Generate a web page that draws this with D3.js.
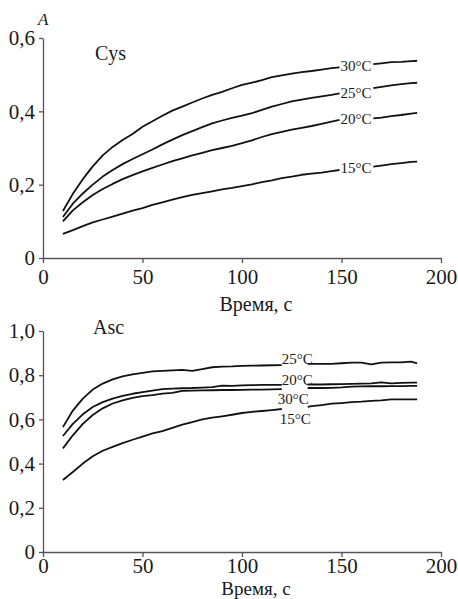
<!DOCTYPE html>
<html>
<head>
<meta charset="utf-8">
<script src="https://cdn.jsdelivr.net/npm/d3@7"></script>
<style>
  body { margin: 0; background: #fff; }
  svg { display: block; }
</style>
</head>
<body>
<svg id="chart" width="458" height="599"></svg>
<script>
// ---- data ----
const seriesNames = ["30°C", "25°C", "20°C", "15°C"];

// Cys panel: time (s); null marks the break where the label sits
const cysTime = [10,15,20,25,30,35,40,45,50,55,60,65,70,75,80,85,90,95,100,105,110,115,120,125,130,135,140,145,149,157,166,170,175,180,185,188];
const cys30 = [0.128,0.175,0.215,0.25,0.28,0.303,0.322,0.338,0.358,0.373,0.388,0.402,0.413,0.424,0.435,0.445,0.453,0.463,0.472,0.478,0.485,0.493,0.498,0.503,0.507,0.51,0.514,0.518,0.52,null,0.529,0.531,0.534,0.535,0.537,0.538];
const cys25 = [0.112,0.148,0.176,0.2,0.222,0.24,0.256,0.27,0.283,0.296,0.31,0.323,0.335,0.346,0.357,0.367,0.375,0.382,0.388,0.395,0.404,0.413,0.42,0.427,0.432,0.437,0.441,0.445,0.449,null,0.463,0.467,0.471,0.474,0.477,0.478];
const cys20 = [0.1,0.13,0.152,0.172,0.188,0.202,0.215,0.226,0.236,0.246,0.255,0.264,0.272,0.28,0.287,0.294,0.3,0.306,0.313,0.321,0.33,0.338,0.344,0.35,0.355,0.36,0.366,0.372,0.377,null,0.381,0.383,0.387,0.39,0.394,0.396];
const cys15 = [0.066,0.076,0.087,0.097,0.105,0.113,0.121,0.129,0.136,0.145,0.152,0.159,0.166,0.172,0.177,0.182,0.187,0.191,0.196,0.201,0.207,0.212,0.218,0.222,0.227,0.23,0.233,0.237,0.24,null,0.249,0.252,0.256,0.259,0.262,0.263];

// Asc panel
const ascTime = [10,15,20,25,30,35,40,45,50,55,60,65,70,75,80,85,90,95,100,105,110,115,120,126,133,135,140,145,150,155,160,165,170,175,180,185,188];
const asc30 = [0.469,0.528,0.58,0.62,0.65,0.672,0.686,0.697,0.705,0.71,0.717,0.72,0.729,0.73,0.731,0.732,0.733,0.733,0.734,0.735,0.735,0.736,0.737,null,0.742,0.742,0.742,0.743,0.745,0.748,0.749,0.75,0.75,0.751,0.751,0.752,0.752];
const asc25 = [0.565,0.64,0.694,0.735,0.762,0.781,0.795,0.804,0.811,0.817,0.82,0.822,0.824,0.82,0.828,0.836,0.839,0.84,0.842,0.843,0.844,0.845,0.846,null,0.851,0.851,0.851,0.851,0.854,0.857,0.857,0.849,0.857,0.858,0.858,0.861,0.854];
const asc20 = [0.525,0.58,0.623,0.656,0.678,0.694,0.706,0.716,0.723,0.73,0.737,0.739,0.741,0.742,0.744,0.746,0.753,0.752,0.754,0.755,0.756,0.756,0.756,null,0.758,0.758,0.758,0.759,0.76,0.761,0.762,0.763,0.768,0.763,0.765,0.766,0.766];
const asc15 = [0.326,0.362,0.4,0.433,0.458,0.476,0.493,0.508,0.522,0.537,0.547,0.562,0.576,0.588,0.6,0.608,0.614,0.621,0.629,0.634,0.638,0.642,0.647,null,0.657,0.66,0.665,0.671,0.674,0.678,0.68,0.684,0.686,0.691,0.691,0.691,0.691];

const xTicks = [0, 50, 100, 150, 200];
const cysTicks = [0, 0.2, 0.4, 0.6];
const cysTickLabels = ["0", "0,2", "0,4", "0,6"];
const ascTicks = [0, 0.2, 0.4, 0.6, 0.8, 1.0];
const ascTickLabels = ["0", "0,2", "0,4", "0,6", "0,8", "1,0"];

// ---- drawing ----
const SERIF = "'Liberation Serif', 'Times New Roman', Times, serif";
const svg = d3.select("#chart");
const x = d3.scaleLinear().domain([0, 200]).range([43, 441]);

function label(sel, size) {
  return sel.style("font-family", SERIF).style("font-size", size + "px").style("fill", "#1a1a1a");
}

function panel(opts) {
  const y = d3.scaleLinear().domain(opts.yDomain).range(opts.yRange);
  const g = svg.append("g");

  const xAxis = d3.axisBottom(x).tickValues(xTicks).tickSize(5).tickSizeOuter(0).tickPadding(opts.xPad);
  const gx = g.append("g").attr("transform", `translate(0,${opts.yRange[0]})`).call(xAxis);
  const yAxis = d3.axisLeft(y).tickValues(opts.ticks)
    .tickFormat((d, i) => opts.tickLabels[i]).tickSize(4).tickSizeOuter(0).tickPadding(4);
  const gy = g.append("g").attr("transform", `translate(${x(0)},0)`).call(yAxis);

  [gx, gy].forEach(a => {
    a.attr("font-family", null).attr("font-size", null);
    a.select(".domain").attr("stroke", "#555").attr("stroke-width", 1.3);
    a.selectAll(".tick line").attr("stroke", "#555").attr("stroke-width", 1.3);
    label(a.selectAll(".tick text"), 21);
  });

  const line = d3.line()
    .defined(d => d.v != null)
    .x(d => x(d.t))
    .y(d => y(d.v));

  opts.series.forEach((vals, i) => {
    const pts = opts.time.map((t, k) => ({ t, v: vals[k] }));
    g.append("path").datum(pts)
      .attr("fill", "none").attr("stroke", "#111")
      .attr("stroke-width", 1.8).attr("stroke-linejoin", "round")
      .attr("d", line);

    // series label sits at the end of the first segment
    const k = vals.indexOf(null) - 1;
    const nudge = opts.labelNudge[i];
    label(g.append("text"), 15)
      .attr("x", x(opts.time[k]) + nudge[0])
      .attr("y", y(vals[k]) + nudge[1])
      .attr("dy", "0.35em")
      .text(seriesNames[i]);
  });

  label(g.append("text"), 20).attr("x", opts.nameX).attr("y", opts.nameY).text(opts.name);

  label(g.append("text"), opts.titleSize).attr("x", 256).attr("y", opts.titleY)
    .attr("text-anchor", "middle").text("Время, с");
}

panel({
  name: "Cys", nameX: 95, nameY: 60,
  yDomain: [0, 0.6], yRange: [258, 38],
  ticks: cysTicks, tickLabels: cysTickLabels,
  time: cysTime, series: [cys30, cys25, cys20, cys15],
  labelNudge: [[1, -2], [1, -0.5], [1, -1.5], [1, -2.5]],
  xPad: 6, titleY: 311, titleSize: 20
});

panel({
  name: "Asc", nameX: 93, nameY: 334,
  yDomain: [0, 1], yRange: [552, 331],
  ticks: ascTicks, tickLabels: ascTickLabels,
  time: ascTime, series: [asc30, asc25, asc20, asc15],
  labelNudge: [[-4, 10], [0, -6.5], [0, -5], [-2, 10]],
  xPad: 1, titleY: 595, titleSize: 19
});

// y-axis symbol
label(svg.append("text"), 17).style("font-style", "italic")
  .attr("x", 38).attr("y", 25).text("A");
</script>
</body>
</html>
